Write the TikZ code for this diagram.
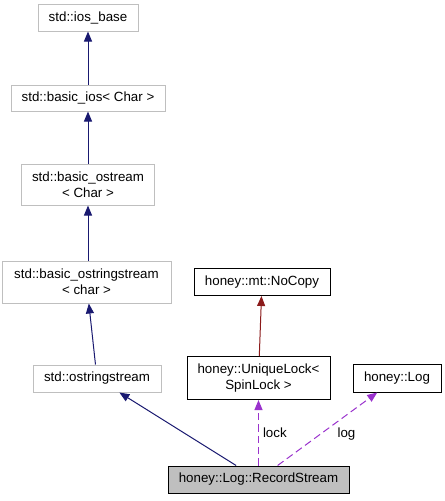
\documentclass[tikz,border=0pt]{standalone}
\usepackage{fontspec}
\setmainfont{Liberation Sans}
\usetikzlibrary{arrows.meta}
\definecolor{edgeblue}{HTML}{191970}
\definecolor{edgered}{HTML}{8B1A1A}
\definecolor{edgepurple}{HTML}{9A32CD}
\definecolor{boxgray}{HTML}{BFBFBF}
\begin{document}
\begin{tikzpicture}[x=0.75pt,y=-0.75pt,
  box/.style={draw, line width=0.75pt, inner sep=0pt, align=center,
    font=\fontsize{10pt}{12pt}\selectfont},
  stdbox/.style={box, draw=boxgray},
  honeybox/.style={box, draw=black},
  mainbox/.style={box, draw=black, fill=boxgray},
  inherit/.style={line width=0.75pt, draw=edgeblue,
    -{Triangle[length=7.5pt,width=6pt,fill=edgeblue]}},
  inheritred/.style={line width=0.75pt, draw=edgered,
    -{Triangle[length=7.5pt,width=6pt,fill=edgered]}},
  usage/.style={line width=0.75pt, draw=edgepurple, dash pattern=on 5.5pt off 3pt,
    -{Triangle[length=7.5pt,width=6pt,fill=edgepurple]}},
  elabel/.style={font=\fontsize{10pt}{12pt}\selectfont, inner sep=0pt}
]
\useasboundingbox (0,0) rectangle (445,501);

\node[stdbox, minimum width=75pt, minimum height=20.25pt] (iosbase) at (88,17.5) {std::ios\_base};
\node[stdbox, minimum width=115.5pt, minimum height=19.5pt] (basicios) at (88,98) {std::basic\_ios< Char >};
\node[stdbox, minimum width=99.75pt, minimum height=30.75pt] (basicostream) at (88,184.5) {std::basic\_ostream\\< Char >};
\node[stdbox, minimum width=126.75pt, minimum height=31.5pt] (basicoss) at (86.5,282) {std::basic\_ostringstream\\< char >};
\node[stdbox, minimum width=96pt, minimum height=20.25pt] (oss) at (97,378.5) {std::ostringstream};
\node[honeybox, minimum width=102pt, minimum height=20.25pt] (nocopy) at (262,282) {honey::mt::NoCopy};
\node[honeybox, minimum width=107.25pt, minimum height=32.25pt] (uniquelock) at (258.5,378) {honey::UniqueLock<\\SpinLock >};
\node[honeybox, minimum width=66pt, minimum height=21pt] (log) at (397,378) {honey::Log};
\node[mainbox, minimum width=135.75pt, minimum height=20.25pt] (rs) at (258.5,479.5) {honey::Log::RecordStream};

\draw[inherit] (basicios) -- (iosbase);
\draw[inherit] (basicostream) -- (basicios);
\draw[inherit] (basicoss.north -| basicostream.south) -- (basicostream);
\draw[inherit] (oss) -- (basicoss);
\draw[inherit] (rs) -- (oss);
\draw[inheritred] (uniquelock) -- (nocopy);
\draw[usage] (rs) -- node[elabel, pos=0.5, right=3pt] {lock} (uniquelock);
\draw[usage] (rs) -- node[elabel, pos=0.43, right=12.5pt] {log} (log);
\end{tikzpicture}
\end{document}
